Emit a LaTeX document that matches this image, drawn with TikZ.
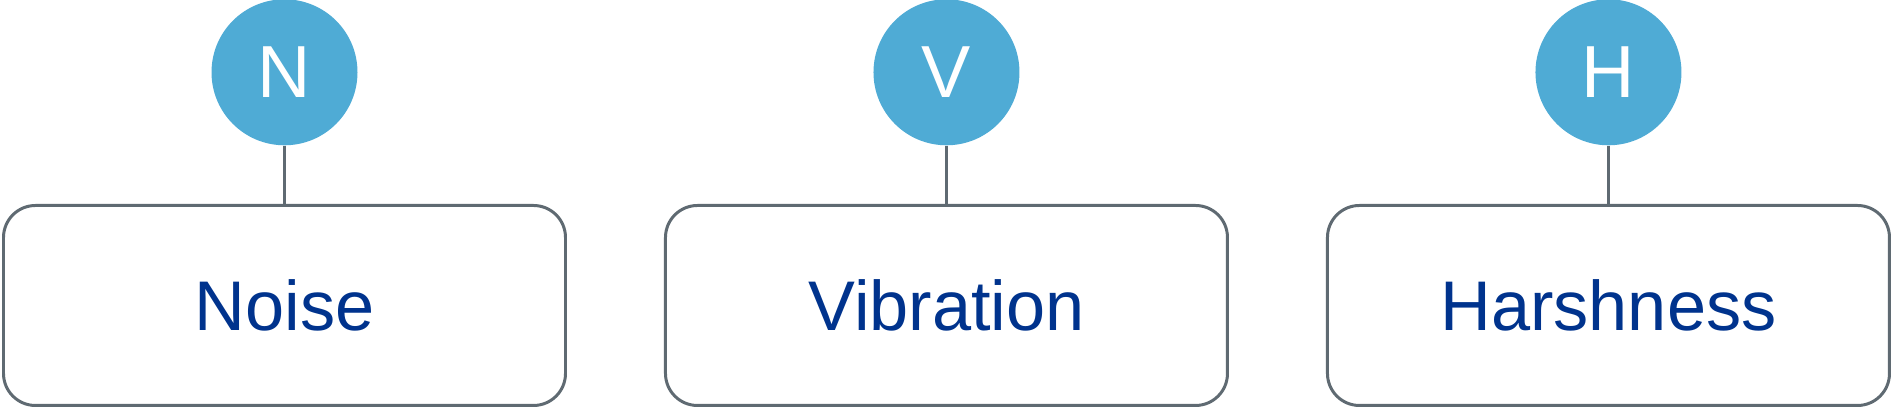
\documentclass[tikz,border=0pt]{standalone}
\usepackage{fontspec}
\setmainfont{Liberation Sans}
\usetikzlibrary{positioning}
\definecolor{letterblue}{HTML}{4FABD5}
\definecolor{textblue}{HTML}{00338D}
\definecolor{linegray}{HTML}{5F6A72}
\tikzstyle{catnode} = [draw=linegray, line width=0.85pt, rounded corners=0.32cm, minimum width=5.62cm, minimum height=2.0cm, text=textblue, font=\fontsize{20}{24}\selectfont]
\tikzstyle{letternode} = [circle, fill=letterblue, minimum size=1.46cm, inner sep=0pt, text=white, font=\fontsize{21}{25}\selectfont]
\tikzstyle{link} = [draw=linegray, line width=0.85pt]

\begin{document}
\begin{tikzpicture}
  \useasboundingbox (0,0) rectangle (18.95,-4.11);

  \node[catnode] (noise) at (2.845,-3.055) {Noise};
  \node[catnode, right=0.97cm of noise] (vibration) {Vibration};
  \node[catnode, right=0.97cm of vibration] (harshness) {Harshness};

  \node[letternode, above=0.58cm of noise] (N) {N};
  \node[letternode, above=0.58cm of vibration] (V) {V};
  \node[letternode, above=0.58cm of harshness] (H) {H};

  \draw[link] (N) -- (noise);
  \draw[link] (V) -- (vibration);
  \draw[link] (H) -- (harshness);
\end{tikzpicture}
\end{document}
